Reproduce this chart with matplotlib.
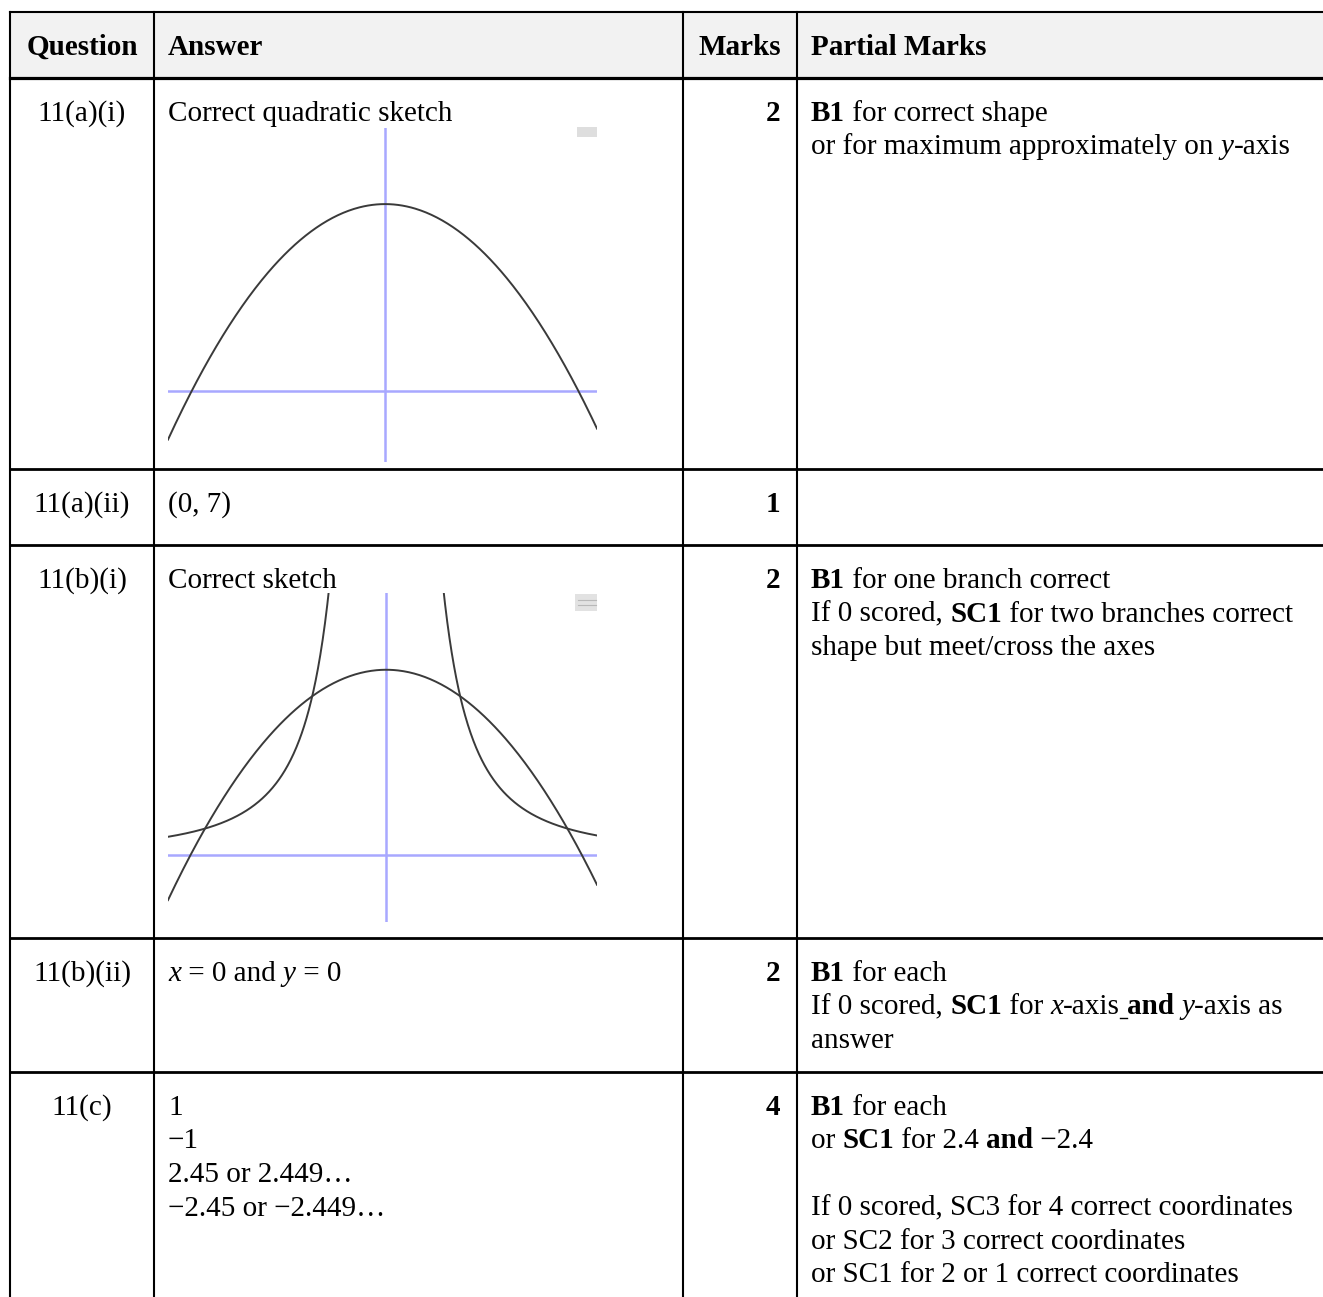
import numpy as np
import matplotlib
matplotlib.use("Agg")
import matplotlib.pyplot as plt
from matplotlib.patches import Rectangle

# table content
headers = ["Question", "Answer", "Marks", "Partial Marks"]
questions = ["11(a)(i)", "11(a)(ii)", "11(b)(i)", "11(b)(ii)", "11(c)"]
marks = ["2", "1", "2", "2", "4"]

# each line is a list of (text, style) segments; style: b=bold, i=italic, u=underline
answers = [
    [[("Correct quadratic sketch", "")]],
    [[("(0, 7)", "")]],
    [[("Correct sketch", "")]],
    [[("x", "i"), (" = 0 and ", ""), ("y", "i"), (" = 0", "")]],
    [[("1", "")], [("\u22121", "")], [("2.45 or 2.449\u2026", "")],
     [("\u22122.45 or \u22122.449\u2026", "")]],
]
partial = [
    [[("B1", "b"), (" for correct shape", "")],
     [("or for maximum approximately on ", ""), ("y", "i"), ("-axis", "")]],
    [],
    [[("B1", "b"), (" for one branch correct", "")],
     [("If 0 scored, ", ""), ("SC1", "b"), (" for two branches correct", "")],
     [("shape but meet/cross the axes", "")]],
    [[("B1", "b"), (" for each", "")],
     [("If 0 scored, ", ""), ("SC1", "b"), (" for ", ""), ("x", "i"), ("-axis", ""),
      (" ", "u"), ("and", "b"), (" ", ""), ("y", "i"), ("-axis as", "")],
     [("answer", "")]],
    [[("B1", "b"), (" for each", "")],
     [("or ", ""), ("SC1", "b"), (" for 2.4 ", ""), ("and", "b"), (" \u22122.4", "")],
     [],
     [("If 0 scored, SC3 for 4 correct coordinates", "")],
     [("or SC2 for 3 correct coordinates", "")],
     [("or SC1 for 2 or 1 correct coordinates", "")]],
]

# sketch curves: y = quad_c - x^2 and y = recip_k / x^2
quad_c = 7
recip_k = 6

W, H = 1323, 1297
col_x = [10, 154, 683, 797]
top_y = 12
header_y = 78
row_tops = [78, 469, 545, 938, 1072]
line_gap = 33.5
fsize = 21
font = ["Liberation Serif", "DejaVu Serif"]

fig = plt.figure(figsize=(W / 100, H / 100), dpi=100)
ax = fig.add_axes([0, 0, 1, 1])
ax.set_xlim(0, W)
ax.set_ylim(H, 0)
ax.axis("off")
renderer = fig.canvas.get_renderer()


def text_width(s, weight, style):
    t = ax.text(0, 0, s + "|", fontsize=fsize, family=font, weight=weight, style=style)
    t2 = ax.text(0, 0, "|", fontsize=fsize, family=font, weight=weight, style=style)
    w = t.get_window_extent(renderer).width - t2.get_window_extent(renderer).width
    t.remove()
    t2.remove()
    return w


def rich_line(x, y, segs, ha="left"):
    widths = []
    for s, st in segs:
        widths.append(text_width(s, "bold" if "b" in st else "normal",
                                 "italic" if "i" in st else "normal"))
    if ha == "center":
        x -= sum(widths) / 2
    elif ha == "right":
        x -= sum(widths)
    for (s, st), w in zip(segs, widths):
        ax.text(x, y, s, fontsize=fsize, family=font, va="baseline",
                weight="bold" if "b" in st else "normal",
                style="italic" if "i" in st else "normal", color="black")
        if "u" in st:
            ax.plot([x, x + w], [y + 3, y + 3], color="black", lw=1.0)
        x += w


# header background and text
ax.add_patch(Rectangle((col_x[0], top_y), W - col_x[0], header_y - top_y,
                       facecolor="#f2f2f2", edgecolor="none"))
hb = 55
rich_line((col_x[0] + col_x[1]) / 2, hb, [(headers[0], "b")], ha="center")
rich_line(168, hb, [(headers[1], "b")])
rich_line((col_x[2] + col_x[3]) / 2, hb, [(headers[2], "b")], ha="center")
rich_line(811, hb, [(headers[3], "b")])

# rows
for i, top in enumerate(row_tops):
    base = top + 43
    rich_line((col_x[0] + col_x[1]) / 2, base, [(questions[i], "")], ha="center")
    rich_line(780, base, [(marks[i], "b")], ha="right")
    for j, line in enumerate(answers[i]):
        if line:
            rich_line(168, base + j * line_gap, line)
    for j, line in enumerate(partial[i]):
        if line:
            rich_line(811, base + j * line_gap, line)

# grid lines
ax.plot([col_x[0], W], [top_y, top_y], color="black", lw=1.5)
ax.plot([col_x[0], W], [header_y, header_y], color="black", lw=2.3)
for y in row_tops[1:]:
    ax.plot([col_x[0], W], [y, y], color="black", lw=2.0)
for x in col_x:
    ax.plot([x, x], [top_y, H], color="black", lw=1.5)

# sketches
blue = "#a8a8ff"
curve = "#3a3a3a"


def sketch(box, xlim, ylim, recip):
    l, t, r, b = box
    sa = fig.add_axes([l / W, 1 - b / H, (r - l) / W, (b - t) / H])
    sa.set_xlim(xlim)
    sa.set_ylim(ylim)
    sa.axis("off")
    sa.axhline(0, color=blue, lw=1.8)
    sa.axvline(0, color=blue, lw=1.8)
    qx = np.linspace(xlim[0], xlim[1], 400)
    sa.plot(qx, quad_c - qx ** 2, color=curve, lw=1.4)
    if recip:
        for lo, hi in [(xlim[0], -0.6), (0.6, xlim[1])]:
            rx = np.linspace(lo, hi, 300)
            sa.plot(rx, recip_k / rx ** 2, color=curve, lw=1.4)


sketch((168, 128, 597, 462), (-2.97, 2.90), (-2.66, 9.85), False)
sketch((168, 593, 597, 922), (-2.95, 2.85), (-2.53, 9.9), True)

# little toolbar icons in the corner of the pasted sketches
ax.add_patch(Rectangle((577, 127), 20, 10, facecolor="#dedede", edgecolor="none"))
ax.add_patch(Rectangle((575, 594), 22, 17, facecolor="#e2e2e2", edgecolor="none"))
ax.plot([578, 596], [600, 600], color="#b8b8b8", lw=0.8)
ax.plot([578, 596], [605, 605], color="#b8b8b8", lw=0.8)

fig.savefig("out.png", dpi=100)
